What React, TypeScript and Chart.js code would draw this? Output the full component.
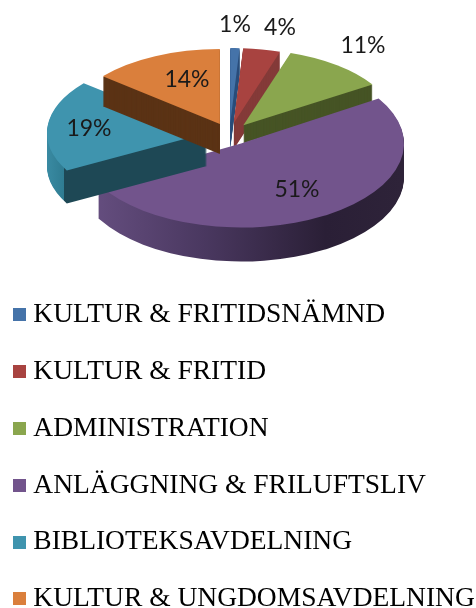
import React, { useEffect, useRef } from "react";
import { Chart, registerables } from "chart.js";

Chart.register(...registerables);

const categories = [
  "KULTUR & FRITIDSNÄMND",
  "KULTUR & FRITID",
  "ADMINISTRATION",
  "ANLÄGGNING & FRILUFTSLIV",
  "BIBLIOTEKSAVDELNING",
  "KULTUR & UNGDOMSAVDELNING",
];
const shares = [1, 4, 11, 51, 19, 14];
const topColors = ["#4573a9", "#a84340", "#8aa64e", "#72548c", "#3f94ae", "#da7f3c"];
const wallColors = ["#2c4f7c", "#843a38", "#465425", "#4a3860", "#1e4855", "#5b3315"];

const W = 476;
const H = 608;
const R = 100;
const pieX = 229.5;
const pieY = 134;
const explodeX = 22.6;
const explodeY = 11;
const radiiX = [150, 150, 153, 163, 160, 152];
const radiiY = [75, 75, 76, 84, 78, 75];
const depths = [26, 26, 18, 34, 33, 30];
const labelAt: [number, number][] = [
  [235, 25],
  [280, 28],
  [363, 46],
  [297, 190],
  [89, 129],
  [187, 80],
];

function marker(color: string) {
  const c = document.createElement("canvas");
  c.width = 13;
  c.height = 13;
  const g = c.getContext("2d")!;
  g.fillStyle = color;
  g.fillRect(0, 0, 13, 13);
  return c;
}

const pie3d = {
  id: "pie3d",
  afterLayout(chart: any) {
    chart.legend.left = -9.85;
    chart.legend.top = 34;
    chart.legend.bottom = H + 34;
  },
  beforeDatasetsDraw(chart: any) {
    const ctx = chart.ctx;
    const arcs = chart.getDatasetMeta(0).data;
    arcs.forEach((el: any, i: number) => {
      const mid = (el.startAngle + el.endAngle) / 2;
      const ax = pieX + Math.cos(mid) * explodeX;
      const ay = pieY + Math.sin(mid) * explodeY;
      const sx = radiiX[i] / R;
      const sy = radiiY[i] / R;
      const toLocal = (xs: number) => el.x + (xs - ax) / sx;
      const place = (dy: number) => {
        ctx.translate(ax, ay + dy);
        ctx.scale(sx, sy);
        ctx.translate(-el.x, -el.y);
      };
      const original = el.options;
      let wall: any = wallColors[i];
      if (i === 3) {
        wall = ctx.createLinearGradient(toLocal(97), 0, toLocal(402), 0);
        wall.addColorStop(0, "#644d7e");
        wall.addColorStop(0.35, "#4a3860");
        wall.addColorStop(0.75, "#2a1f36");
        wall.addColorStop(1, "#2e2339");
      } else if (i === 4) {
        wall = ctx.createLinearGradient(toLocal(46), 0, toLocal(64), 0);
        wall.addColorStop(0, "#3a8ba3");
        wall.addColorStop(0.99, "#2f7c92");
        wall.addColorStop(1, "#1e4855");
      }
      el.options = { ...original, backgroundColor: wall, borderWidth: 0 };
      for (let d = depths[i]; d >= 1; d--) {
        ctx.save();
        place(d);
        el.draw(ctx);
        ctx.restore();
      }
      el.options = { ...original, borderWidth: 0 };
      ctx.save();
      place(0);
      el.draw(ctx);
      ctx.restore();
      el.options = original;
    });
    ctx.save();
    ctx.font = "23px Lato";
    ctx.fillStyle = "#1a1a1a";
    ctx.textAlign = "center";
    ctx.textBaseline = "middle";
    shares.forEach((v, i) => {
      ctx.fillText(v + "%", labelAt[i][0], labelAt[i][1]);
    });
    ctx.restore();
    return false;
  },
};

export default function App() {
  const ref = useRef<HTMLCanvasElement>(null);
  useEffect(() => {
    const chart = new Chart(ref.current!, {
      type: "pie",
      data: {
        labels: categories,
        datasets: [{ data: shares, backgroundColor: topColors, borderWidth: 0, radius: R } as any],
      },
      options: {
        animation: false,
        responsive: false,
        layout: { padding: 0 },
        plugins: {
          tooltip: { enabled: false },
          legend: {
            display: true,
            position: "chartArea",
            align: "end",
            labels: {
              usePointStyle: true,
              pointStyleWidth: 0.1,
              padding: 29.3,
              color: "#1a1a1a",
              font: { family: "'Liberation Serif'", size: 27.5 },
              generateLabels: () =>
                categories.map((text, i) => ({
                  text,
                  index: i,
                  hidden: false,
                  fillStyle: topColors[i],
                  strokeStyle: topColors[i],
                  lineWidth: 0,
                  pointStyle: marker(topColors[i]),
                })),
            },
          },
        },
      } as any,
      plugins: [pie3d as any],
    });
    return () => chart.destroy();
  }, []);
  return (
    <div style={{ position: "absolute", left: 0, top: 0, width: W, height: H }}>
      <canvas ref={ref} width={W} height={H} style={{ display: "block" }} />
    </div>
  );
}
